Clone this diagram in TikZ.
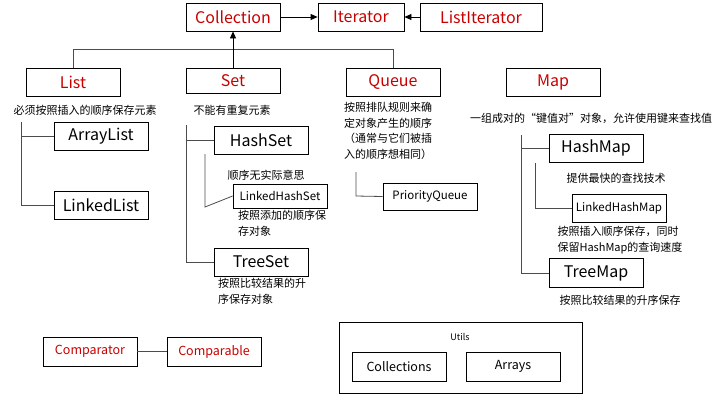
\documentclass[tikz,border=0pt]{standalone}
\usepackage{fontspec}
\setmainfont{Noto Sans CJK SC}
\usetikzlibrary{arrows.meta}
\definecolor{rd}{RGB}{200,0,0}
\begin{document}
\begin{tikzpicture}[x=1pt,y=-1pt,
 bx/.style={draw,thick,minimum width=94pt,minimum height=28pt,inner sep=0pt,font=\fontsize{16}{16}\selectfont},
 rb/.style={bx,text=rd},
 sb/.style={draw,thick,minimum width=94pt,minimum height=26pt,inner sep=0pt,font=\fontsize{11.5}{11.5}\selectfont},
 nt/.style={font=\fontsize{11}{15.5}\selectfont,inner sep=0pt,align=left},
 ln/.style={draw=black!70,thick},
 ar/.style={thick,-{Triangle[length=7pt,width=6pt]}}]
\useasboundingbox (0,0) rectangle (727,400);
\node[rb] (coll) at (233,17) {Collection};
\node[rb,minimum width=86pt] (iter) at (361,17) {Iterator};
\node[rb,minimum width=122pt] (liter) at (481,17) {ListIterator};
\draw[ar] (coll) -- (iter);
\draw[ar] (liter) -- (iter);
\node[rb] (list) at (73,82) {List};
\node[rb,minimum height=25pt] (set) at (233,80.5) {Set};
\node[rb] (queue) at (393,82) {Queue};
\node[rb] (map) at (553,82) {Map};
\coordinate (bl) at (73,49); \coordinate (br) at (393,49);
\draw[ln] (list.north) -- (bl) -- (br) -- (queue.north);
\draw[ar] (set.north) -- (coll.south);
\node[nt] (tl) at (85,110) {必须按照插入的顺序保存元素};
\node[bx] (al) at (101,136) {ArrayList};
\node[bx] (ll) at (101,205) {LinkedList};
\coordinate (t1) at (21,122); \coordinate (t2) at (21,205);
\draw[ln] (t1) -- (t2) -- (ll.west);
\draw[ln] (21,136) -- (al.west);
\node[nt] (ts) at (232,110) {不能有重复元素};
\node[bx] (hs) at (261,140) {HashSet};
\node[bx] (tss) at (261,262) {TreeSet};
\draw[ln] (186,125) -- (186,262) -- (tss.west);
\draw[ln] (186,140) -- (hs.west);
\node[nt] (ths) at (266,175) {顺序无实际意思};
\node[sb,minimum height=24pt] (lhs) at (280,196) {LinkedHashSet};
\draw[ln] (205,154) -- (205,207) -- (lhs.west);
\node[nt,anchor=north west] (tlhs) at (238,210) {按照添加的顺序保\\存对象};
\node[nt,anchor=north west] (tts) at (218,278) {按照比较结果的升\\序保存对象};
\node[nt,anchor=north west] (tq) at (344,102) {按照排队规则来确\\定对象产生的顺序\\（通常与它们被插\\入的顺序想相同）};
\node[sb,minimum height=27pt] (pq) at (430,196.5) {PriorityQueue};
\draw[ln] (356,172) -- (356,196) -- (pq.west);
\node[nt] (tm) at (591,118) {一组成对的“键值对”对象，允许使用键来查找值};
\node[bx] (hm) at (596,148) {HashMap};
\node[bx,minimum height=29pt] (tmap) at (596,273) {TreeMap};
\draw[ln] (521,135) -- (521,273) -- (tmap.west);
\draw[ln] (521,148) -- (hm.west);
\node[nt] (thm) at (616,178) {提供最快的查找技术};
\node[sb,minimum height=28pt] (lhm) at (619,208) {LinkedHashMap};
\draw[ln] (535,163) -- (535,208) -- (lhm.west);
\node[nt] (tlhm) at (620,240) {按照插入顺序保存，同时\\保留HashMap的查询速度};
\node[nt] (ttm) at (620,300) {按照比较结果的升序保存};
\node[rb,minimum height=29pt,font=\fontsize{12.5}{12.5}\selectfont] (cmp) at (90,351.5) {Comparator};
\node[rb,minimum height=29pt,font=\fontsize{12.5}{12.5}\selectfont] (cmb) at (214,351.5) {Comparable};
\draw[ln] (cmp) -- (cmb);
\node[draw,thick,minimum width=243pt,minimum height=71pt,inner sep=0pt] (utils) at (460.5,357.5) {};
\node[font=\fontsize{9}{9}\selectfont] (ul) at (460,337) {Utils};
\node[bx,minimum height=29pt,font=\fontsize{12.5}{12.5}\selectfont] (cols) at (399,366.5) {Collections};
\node[bx,minimum height=29pt,font=\fontsize{12.5}{12.5}\selectfont] (arr) at (513,366.5) {Arrays};
\end{tikzpicture}
\end{document}
